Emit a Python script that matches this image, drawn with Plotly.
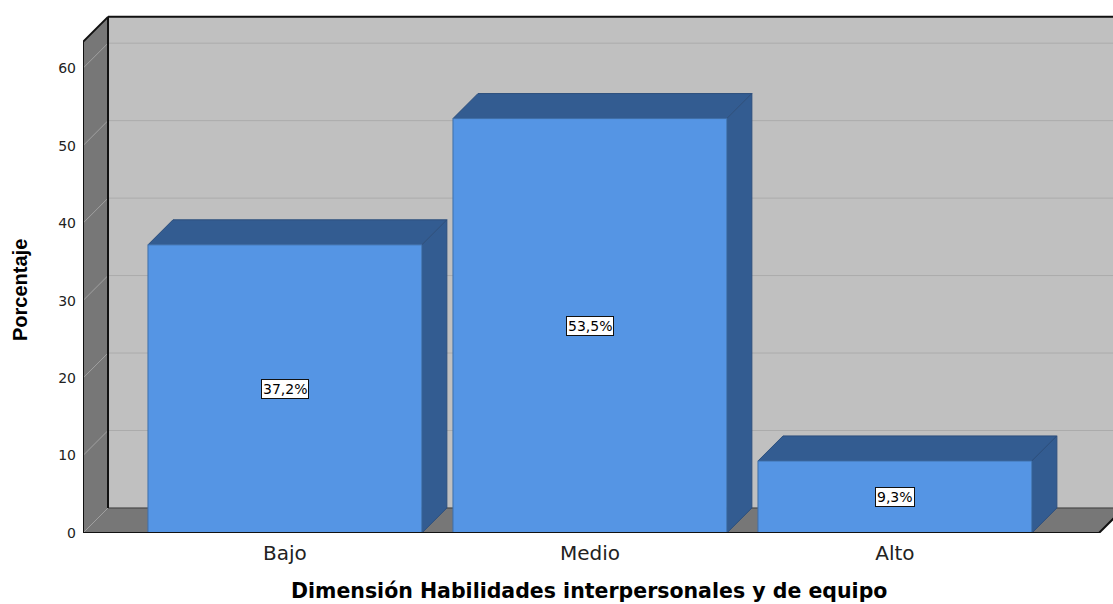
import plotly.graph_objects as go

categories = ["Bajo", "Medio", "Alto"]
values = [37.2, 53.5, 9.3]
labels = ["37,2%", "53,5%", "9,3%"]
y_ticks = [0, 10, 20, 30, 40, 50, 60]

# geometry (data units)
XMIN, XMAX = -0.662, 2.715
FLOOR_END = 2.669
WALL_TOP = 63.4
YMAX = 67.0
DX, DY = 0.082, 3.23
BW = 0.898

FRONT = "#5595E4"
DARK = "#335C91"
WALL = "#C0C0C0"
SIDE = "#777777"

def path(pts):
    return "M " + " L ".join(f"{x},{y}" for x, y in pts) + " Z"

shapes = []
# back wall
shapes.append(dict(type="path", path=path([(XMIN + DX, DY), (FLOOR_END + DX + 0.2, DY),
                                           (FLOOR_END + DX + 0.2, WALL_TOP + DY), (XMIN + DX, WALL_TOP + DY)]),
                   fillcolor=WALL, line=dict(width=0), layer="below"))
# left wall
shapes.append(dict(type="path", path=path([(XMIN, 0), (XMIN + DX, DY), (XMIN + DX, WALL_TOP + DY), (XMIN, WALL_TOP)]),
                   fillcolor=SIDE, line=dict(width=0), layer="below"))
# floor
shapes.append(dict(type="path", path=path([(XMIN, 0), (FLOOR_END, 0), (FLOOR_END + DX, DY), (XMIN + DX, DY)]),
                   fillcolor=SIDE, line=dict(width=0), layer="below"))
# grid lines
for t in y_ticks[1:]:
    shapes.append(dict(type="line", x0=XMIN + DX, x1=FLOOR_END + DX + 0.2, y0=t + DY, y1=t + DY,
                       line=dict(color="#ABABAB", width=1), layer="below"))
    shapes.append(dict(type="line", x0=XMIN, x1=XMIN + DX, y0=t, y1=t + DY,
                       line=dict(color="#A0A0A0", width=1), layer="below"))
shapes.append(dict(type="line", x0=XMIN, x1=XMIN + DX, y0=0, y1=DY,
                   line=dict(color="#A0A0A0", width=1), layer="below"))
# floor back edge
shapes.append(dict(type="line", x0=XMIN + DX, x1=FLOOR_END + DX + 0.2, y0=DY, y1=DY,
                   line=dict(color="#3A3A3A", width=1), layer="below"))
# edges
edge = dict(color="#111111", width=2)
shapes.append(dict(type="line", x0=XMIN, x1=XMIN, y0=0, y1=WALL_TOP, line=edge, layer="below"))
shapes.append(dict(type="line", x0=XMIN + DX, x1=XMIN + DX, y0=DY, y1=WALL_TOP + DY, line=edge, layer="below"))
shapes.append(dict(type="line", x0=XMIN, x1=XMIN + DX, y0=WALL_TOP, y1=WALL_TOP + DY, line=edge, layer="below"))
shapes.append(dict(type="line", x0=XMIN + DX, x1=FLOOR_END + DX + 0.2, y0=WALL_TOP + DY, y1=WALL_TOP + DY, line=edge, layer="below"))
shapes.append(dict(type="line", x0=FLOOR_END, x1=FLOOR_END + DX, y0=0, y1=DY, line=edge, layer="below"))

# bar depth faces
for i, v in enumerate(values):
    l, r = i - BW / 2, i + BW / 2
    shapes.append(dict(type="path", path=path([(l, v), (l + DX, v + DY), (r + DX, v + DY), (r, v)]),
                       fillcolor=DARK, line=dict(color="#2D4F7D", width=1), layer="below"))
    shapes.append(dict(type="path", path=path([(r, 0), (r + DX, DY), (r + DX, v + DY), (r, v)]),
                       fillcolor=DARK, line=dict(color="#2D4F7D", width=1), layer="below"))

# floor front line
shapes.append(dict(type="line", x0=XMIN, x1=FLOOR_END, y0=0, y1=0, line=edge, layer="above"))

fig = go.Figure(go.Bar(x=list(range(len(categories))), y=values, width=BW,
                       marker=dict(color=FRONT, line=dict(color="#3F6FA8", width=1)),
                       hoverinfo="skip"))

annotations = []
for i, (v, lab) in enumerate(zip(values, labels)):
    annotations.append(dict(x=i, y=v / 2, text=lab, showarrow=False, bgcolor="white",
                            bordercolor="#111111", borderwidth=1, borderpad=1,
                            font=dict(family="DejaVu Sans", size=14, color="black")))
annotations.append(dict(xref="paper", yref="paper", x=(589 - 83) / 1030, y=(533 - 591) / 519,
                        text="<b>Dimensión Habilidades interpersonales y de equipo</b>", showarrow=False,
                        xanchor="center", yanchor="middle",
                        font=dict(family="DejaVu Sans", size=20.5, color="black")))
annotations.append(dict(xref="paper", yref="paper", x=(20 - 83) / 1030, y=(533 - 290) / 519,
                        text="<b>Porcentaje</b>", showarrow=False, textangle=-90,
                        xanchor="center", yanchor="middle",
                        font=dict(family="Liberation Sans", size=20, color="black")))

fig.update_layout(
    width=1113, height=604,
    margin=dict(l=83, r=0, t=14, b=71),
    paper_bgcolor="white", plot_bgcolor="white",
    showlegend=False,
    shapes=shapes, annotations=annotations,
    xaxis=dict(range=[XMIN, XMAX], tickvals=list(range(len(categories))), ticktext=categories,
               showgrid=False, zeroline=False, showline=False, ticks="",
               tickfont=dict(family="DejaVu Sans", size=20, color="#222222"), ticklabelstandoff=6),
    yaxis=dict(range=[0, YMAX], tickvals=y_ticks, showgrid=False, zeroline=False, showline=False,
               ticks="", tickfont=dict(family="DejaVu Sans", size=14, color="#222222"), ticklabelstandoff=6),
)

fig.write_html("out.html", config={"displayModeBar": False},
               post_script="document.body.style.margin='0';document.body.style.overflow='hidden';")
